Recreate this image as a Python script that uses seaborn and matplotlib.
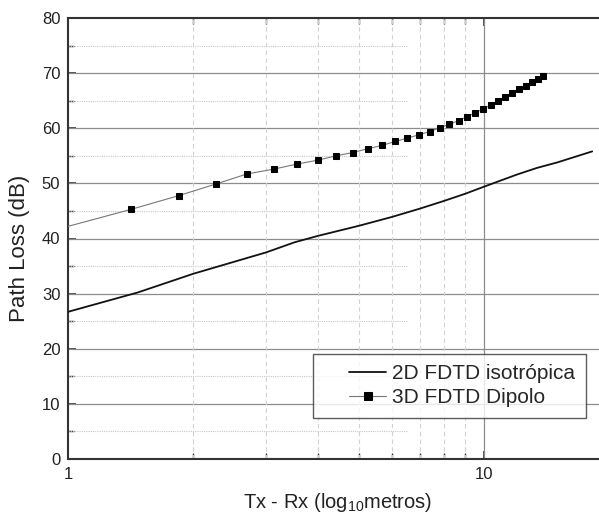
import matplotlib
matplotlib.use("Agg")
import matplotlib.pyplot as plt
import seaborn as sns
import numpy as np
import pandas as pd
from matplotlib.ticker import LogLocator, NullFormatter, FixedLocator
from matplotlib.legend_handler import HandlerLine2D

# ---- data ----
x_2d = [1.0, 1.47, 2.0, 3.0, 3.5, 4.0, 5.0, 6.0, 7.0, 8.0, 9.0, 10.0, 12.0, 13.4, 15.0, 18.2]
y_2d = [26.7, 30.2, 33.6, 37.5, 39.3, 40.5, 42.3, 43.9, 45.4, 46.8, 48.1, 49.4, 51.6, 52.8, 53.8, 55.8]

x_3d = [1.0, 1.42, 1.85, 2.27, 2.69, 3.13, 3.55, 3.98, 4.41, 4.84, 5.27, 5.69, 6.12, 6.54,
        6.96, 7.40, 7.84, 8.26, 8.69, 9.10, 9.53, 9.95, 10.38, 10.80, 11.23, 11.67,
        12.14, 12.60, 13.06, 13.48, 13.90]
y_3d = [42.2, 45.3, 47.8, 49.9, 51.7, 52.6, 53.5, 54.2, 55.0, 55.6, 56.3, 56.9, 57.6, 58.2,
        58.8, 59.4, 60.1, 60.7, 61.4, 62.1, 62.8, 63.5, 64.2, 64.9, 65.7, 66.4,
        67.1, 67.7, 68.3, 68.9, 69.4]

label_2d = "2D FDTD isotrópica"
label_3d = "3D FDTD Dipolo"
x_label = "Tx - Rx (log$_{10}$metros)"
y_label = "Path Loss (dB)"
y_ticks = [0, 10, 20, 30, 40, 50, 60, 70, 80]
x_ticks = [1, 10]
x_tick_labels = ["1", "10"]

sns.set_style("white")
plt.rcParams['font.family'] = ['Liberation Sans', 'DejaVu Sans']
plt.rcParams['mathtext.fontset'] = 'custom'
plt.rcParams['mathtext.rm'] = 'Liberation Sans'
plt.rcParams['mathtext.it'] = 'Liberation Sans'

fig = plt.figure(figsize=(5.99, 5.22), dpi=100)
ax = fig.add_axes([68/599, 63/522, 531/599, 441/522])

df2 = pd.DataFrame({"x": x_2d, "y": y_2d})
df3 = pd.DataFrame({"x": x_3d, "y": y_3d})

ax.set_xscale("log")
ax.set_xlim(1, 10 ** (531/416))
ax.set_ylim(0, 80)

# grid
for yv in y_ticks[1:-1]:
    ax.axhline(yv, color="#8c8c8c", lw=0.9, zorder=1)
for yv in np.arange(5, 80, 10):
    ax.axhline(yv, xmin=0, xmax=0.64, color="#c8c8c8", lw=0.8, ls=(0, (1, 1)), zorder=1)
ax.axvline(10, color="#8c8c8c", lw=0.9, zorder=1)
for xv in range(2, 10):
    ax.axvline(xv, color="#d2d2d2", lw=0.8, ls=(0, (4, 3)), zorder=1)

sns.lineplot(data=df2, x="x", y="y", ax=ax, color="#111111", lw=1.3,
             label=label_2d, zorder=3)
sns.lineplot(data=df3, x="x", y="y", ax=ax, color="#777777", lw=0.8,
             marker="s", markersize=5, markerfacecolor="black",
             markeredgecolor="black", markevery=list(range(1, len(x_3d))),
             label=label_3d, zorder=4)

ax.set_yticks(y_ticks)
ax.yaxis.set_minor_locator(FixedLocator(np.arange(5, 80, 10)))
ax.xaxis.set_major_locator(FixedLocator(x_ticks))
ax.set_xticklabels(x_tick_labels)
ax.xaxis.set_minor_locator(LogLocator(base=10, subs=np.arange(2, 10)))
ax.xaxis.set_minor_formatter(NullFormatter())

ax.tick_params(axis="both", which="both", direction="in", colors="#333333",
               labelcolor="#222222", labelsize=12)
ax.tick_params(axis="x", which="both", top=True, bottom=True)
ax.tick_params(axis="y", which="both", left=True, right=False)
ax.tick_params(which="major", length=6, width=1.2)
ax.tick_params(which="minor", length=4, width=1.0)
ax.tick_params(axis="both", which="major", pad=5.5)

for side in ["left", "bottom", "top"]:
    ax.spines[side].set_color("#333333")
    ax.spines[side].set_linewidth(1.5)
ax.spines["right"].set_visible(False)

ax.set_xlabel(x_label, fontsize=14.5, color="#222222", labelpad=7)
ax.xaxis.label.set_x(0.508)
ax.set_ylabel(y_label, fontsize=16, color="#222222")
ax.yaxis.set_label_coords(-0.0716, 0.478)


class ShiftedHandler(HandlerLine2D):
    def __init__(self, offset, **kw):
        super().__init__(**kw)
        self.offset = offset

    def create_artists(self, legend, orig_handle, xdescent, ydescent, width,
                       height, fontsize, trans):
        artists = super().create_artists(legend, orig_handle, xdescent - self.offset,
                                         ydescent, width - self.offset, height,
                                         fontsize, trans)
        for a in artists:
            xd = a.get_xdata()
            if len(xd) == 3:
                a.set_markevery([1])
            else:
                a.set_markevery(None)
            a.set_markersize(6)
        return artists


handles, labels = ax.get_legend_handles_labels()
hmap = {h: ShiftedHandler(offset=18) for h in handles}
leg = ax.legend(handles, labels, handler_map=hmap,
                loc="lower right", bbox_to_anchor=(0.975, 0.094), borderaxespad=0,
                fontsize=15, frameon=True, fancybox=False, edgecolor="#333333",
                borderpad=0.5, handlelength=3.0, handletextpad=0.29,
                labelspacing=0.25)
leg.get_frame().set_linewidth(1.0)

fig.savefig("out.png", dpi=100)
